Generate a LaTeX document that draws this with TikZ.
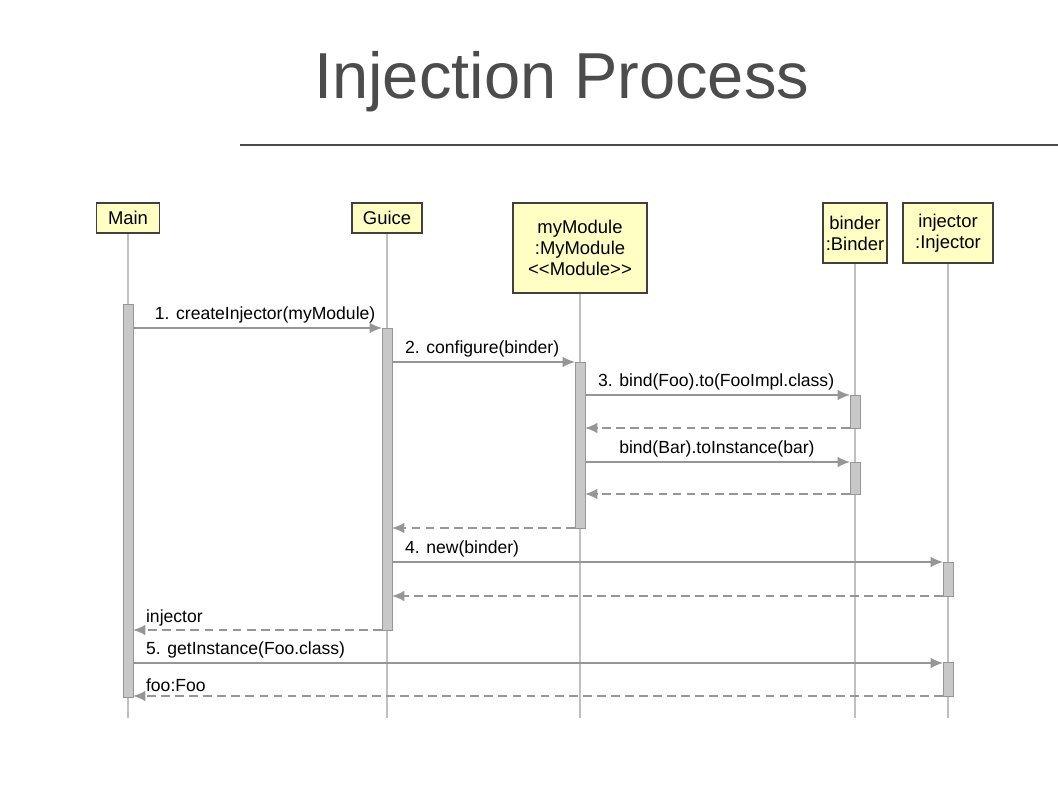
\documentclass[tikz,border=0pt]{standalone}
\usepackage{fontspec}
\setmainfont{Liberation Sans}
\usetikzlibrary{arrows.meta}
\definecolor{headfill}{RGB}{255,255,196}
\definecolor{linegray}{RGB}{150,150,150}
\definecolor{barfill}{RGB}{200,200,200}
\tikzset{>={Latex[length=7pt,width=6pt]}}
\tikzstyle{head}=[draw=black!75,fill=headfill,line width=0.8pt,inner sep=0pt,
  align=center,font=\fontsize{10.5}{12}\selectfont]
\tikzstyle{life}=[linegray!60,line width=0.6pt]
\tikzstyle{bar}=[draw=linegray,fill=barfill,line width=0.5pt]
\tikzstyle{call}=[->,linegray,line width=1pt]
\tikzstyle{ret}=[->,linegray,dashed,dash pattern=on 5pt off 3pt,line width=0.9pt]
\tikzstyle{lbl}=[black,above,inner sep=2pt,font=\fontsize{10}{12}\selectfont]

\begin{document}
\begin{tikzpicture}[x=0.02cm,y=-0.02cm]
  \useasboundingbox (0,0) rectangle (1058,793);

  % TITLE
  \node[text=black!70,font=\fontsize{37}{40}\selectfont,anchor=west] (title) at (308,82) {Injection Process};
  \draw[black!70,line width=0.6pt] (240,145) -- (1058,145);

  % LIFELINES
  \draw[life] (128,233) -- (128,718);
  \draw[life] (387,233) -- (387,718);
  \draw[life] (580,293) -- (580,718);
  \draw[life] (855,263) -- (855,718);
  \draw[life] (948,263) -- (948,718);

  % HEADS
  \node[head,minimum width=63*0.02cm,minimum height=30*0.02cm] (main) at (128,218) {Main};
  \node[head,minimum width=70*0.02cm,minimum height=30*0.02cm] (guice) at (387,218) {Guice};
  \node[head,minimum width=134*0.02cm,minimum height=90*0.02cm] (mod) at (580,248) {myModule\\:MyModule\\<{}<Module>{}>};
  \node[head,minimum width=64*0.02cm,minimum height=60*0.02cm] (binder) at (855,233) {binder\\:Binder};
  \node[head,minimum width=90*0.02cm,minimum height=60*0.02cm] (inj) at (948,233) {injector\\:Injector};

  % ACTIVATIONS
  \draw[bar] (123,304) rectangle (133,697);
  \draw[bar] (382,328) rectangle (392,630);
  \draw[bar] (575,362) rectangle (585,528);
  \draw[bar] (850,395) rectangle (860,428);
  \draw[bar] (850,462) rectangle (860,494);
  \draw[bar] (943,562) rectangle (953,596);
  \draw[bar] (943,662) rectangle (953,696);

  % END POINTS
  \coordinate (m1) at (133,328); \coordinate (g1) at (382,328);
  \coordinate (g2) at (392,362); \coordinate (d2) at (575,362);
  \coordinate (d3) at (585,395); \coordinate (b3) at (850,395);
  \coordinate (b3r) at (850,428); \coordinate (d3r) at (585,428);
  \coordinate (d4) at (585,462); \coordinate (b4) at (850,462);
  \coordinate (b4r) at (850,494); \coordinate (d4r) at (585,494);
  \coordinate (d5r) at (575,528); \coordinate (g5r) at (392,528);
  \coordinate (g6) at (392,562); \coordinate (i6) at (943,562);
  \coordinate (i6r) at (943,596); \coordinate (g6r) at (392,596);
  \coordinate (g7r) at (382,630); \coordinate (m7r) at (133,630);
  \coordinate (m8) at (133,663); \coordinate (i8) at (943,663);
  \coordinate (i8r) at (943,696); \coordinate (m8r) at (133,696);

  % MESSAGES
  \draw[call] (m1) -- (g1) node[lbl,pos=0,anchor=south west,xshift=10pt] {1. createInjector(myModule)};
  \draw[call] (g2) -- (d2) node[lbl,pos=0,anchor=south west,xshift=5pt] {2. configure(binder)};
  \draw[call] (d3) -- (b3) node[lbl,pos=0,anchor=south west,xshift=5pt] {3. bind(Foo).to(FooImpl.class)};
  \draw[ret] (b3r) -- (d3r);
  \draw[call] (d4) -- (b4) node[lbl,pos=0,anchor=south west,xshift=17pt] {bind(Bar).toInstance(bar)};
  \draw[ret] (b4r) -- (d4r);
  \draw[ret] (d5r) -- (g5r);
  \draw[call] (g6) -- (i6) node[lbl,pos=0,anchor=south west,xshift=5pt] {4. new(binder)};
  \draw[ret] (i6r) -- (g6r);
  \draw[ret] (g7r) -- (m7r) node[lbl,pos=1,anchor=south west,xshift=5pt] {injector};
  \draw[call] (m8) -- (i8) node[lbl,pos=0,anchor=south west,xshift=5pt] {5. getInstance(Foo.class)};
  \draw[ret] (i8r) -- (m8r) node[lbl,pos=1,anchor=south west,xshift=5pt] {foo:Foo};
\end{tikzpicture}
\end{document}
